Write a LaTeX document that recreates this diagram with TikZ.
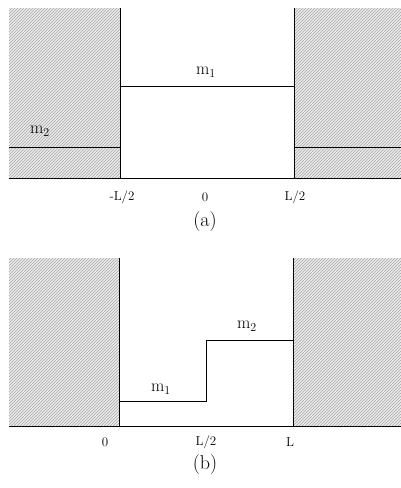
\documentclass[tikz,border=0pt]{standalone}
\usepackage{amsmath}
\usetikzlibrary{patterns}

\tikzset{
    wall/.style={fill=gray!15, postaction={pattern=north east lines, pattern color=gray!70}},
    level/.style={thick},
    ticklab/.style={font=\fontsize{13}{15}\selectfont},
    mlab/.style={font=\fontsize{17}{20}\selectfont},
    panellab/.style={font=\fontsize{20}{24}\selectfont},
}

\begin{document}
\begin{tikzpicture}[x=1pt, y=-1pt]
\useasboundingbox (0,0) rectangle (401,488);

% ---- Panel (a): hatched barriers ----
            \fill[wall] (9,8) rectangle (120,178);
            \fill[wall] (294,8) rectangle (401,178);

% ---- Panel (a): walls and axis ----
            \draw[thin] (9,178) -- (401,178);       % axis
            \draw[thin] (120,8) -- (120,178);       % left wall
            \draw[thin] (294,8) -- (294,178);       % right wall

% ---- Panel (a): effective mass profile ----
            \draw[level] (9,147) -- (120,147) -- (120,86) -- (294,86) -- (294,147) -- (401,147);

            \node[mlab] (ma1) at (206,72) {$\mathrm{m}_1$};
            \node[mlab] (ma2) at (40,131) {$\mathrm{m}_2$};

% ---- Panel (a): tick labels ----
            \node[ticklab] (ta1) at (122,197) {-L/2};
            \node[ticklab] (ta2) at (205,197) {0};
            \node[ticklab] (ta3) at (295,197) {L/2};
            \node[panellab] (capa) at (205,222) {(a)};

% ---- Panel (b): hatched barriers ----
            \fill[wall] (9,258) rectangle (119,426);
            \fill[wall] (293,258) rectangle (401,426);

% ---- Panel (b): walls and axis ----
            \draw[thin] (9,426) -- (401,426);       % axis
            \draw[thin] (119,258) -- (119,426);     % left wall
            \draw[thin] (293,258) -- (293,426);     % right wall

% ---- Panel (b): step in the mass ----
            \draw[level] (119,401) -- (206,401) -- (206,340) -- (293,340);

            \node[mlab] (mb1) at (161,389) {$\mathrm{m}_1$};
            \node[mlab] (mb2) at (247,326) {$\mathrm{m}_2$};

% ---- Panel (b): tick labels ----
            \node[ticklab] (tb1) at (105,442) {0};
            \node[ticklab] (tb2) at (206,442) {L/2};
            \node[ticklab] (tb3) at (290,442) {L};
            \node[panellab] (capb) at (205,465) {(b)};

\end{tikzpicture}
\end{document}
